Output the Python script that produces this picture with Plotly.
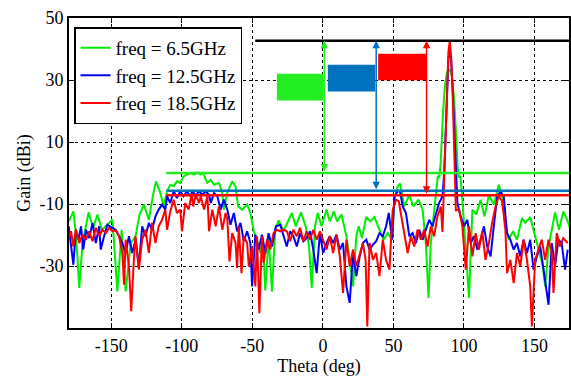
import plotly.graph_objects as go

# ---------------- data ----------------
theta_g = [-180, -176.9, -175, -172.7, -170.4, -166.1, -162.9, -159.8, -156.7, -152.8, -149.2, -145.7,
           -142.7, -139.8, -136.3, -132.8, -130, -126.9, -123.4, -120.6, -118.3, -115.2, -112.9, -110.5,
           -108.2, -105.8, -103.5, -101.1, -98.8, -96.4, -94.1, -91.3, -88.9, -86.6, -85, -81.9, -79.5,
           -77.2, -73.7, -71.3, -70.2, -67.8, -64.3, -61.9, -60.1, -57.2, -53.7, -51.4, -49, -46.7, -44.3,
           -42.7, -40.8, -38.5, -36.1, -33.8, -31.4, -27.9, -25.1, -22, -19.2, -15.5, -12.2, -9.8, -7.9,
           -5.6, -3.7, -0.9, 2.6, 4.9, 7.8, 10.1, 13.2, 16.7, 19, 21.4, 23.7, 25.4, 27.7, 30.8, 33.6, 36.6,
           40.1, 43, 46, 49.1, 50.7, 53.1, 54.7, 57.8, 61.3, 64.1, 67.8, 70.7, 73, 74.9, 76.5, 78.2, 80,
           81.5, 82.5, 83.5, 85, 86.5, 88, 90, 91.5, 93, 94.5, 95.5, 96.5, 97.5, 98.5, 100.1, 103.6, 106,
           108.8, 111.8, 114.6, 117.7, 121.2, 124.7, 127.1, 129.4, 131.8, 134.8, 137.6, 141.2, 143.5, 147,
           149.8, 152.9, 156, 157.6, 160, 162.3, 164.6, 167.4, 170.5, 173.6, 176]
gain_g = [-15.6, -12.4, -20, -37.1, -22.6, -12.7, -17.7, -13.4, -18.3, -16.7, -15.1, -38.2,
          -18.3, -38.2, -22.6, -20.4, -13.4, -10.2, -15.1, -7.5, -2.7, -6.5, -10.8, -5.9,
          -3.8, -4.3, -2.7, -3.2, -1.1, -0.5, 0, -0.5, 0.2, -0.5, 0, -3.2, -2.2,
          -3.8, -3.2, -6.5, -11.8, -6.5, -2.7, -4.3, -10.8, -11.8, -10.2, -12.9, -18.8, -21.5, -25.8,
          -20.4, -37.9, -20.4, -38.2, -18.3, -15.3, -18.8, -16.1, -12.9, -17.2, -12.7, -17.2, -23.7, -37.1,
          -17.2, -12.9, -17.2, -11.8, -15.6, -12.4, -15.6, -13.4, -20.4, -28, -36.6, -20.4, -17.2, -21, -14.2, -15.6, -14.2,
          -18.3, -21.5, -19.4, -21.5, -8.6, -4.3, -3.4, -10.8, -7, -10.8, -8.6, -11.8, -22.6, -40.3, -22.6, -15.1, -6,
          -1, -1.5, 3, 18, 28, 32.5, 33.5, 31, 24, 12, 2, -1.5, -1, -6, -17.2, -40.3, -11.8,
          -13.4, -8.6, -14, -7, -10.2, -3.8, -7.5, -17.2, -21.5, -18.8, -21.5, -14.5, -16.1, -14.2,
          -19.4, -24.2, -30.1, -36.6, -23.7, -18.3, -12.7, -18.3, -12.4, -15.6, -19]

theta_b = [-180.2, -178.6, -176.9, -175.1, -173.2, -171.5, -169.9, -168, -165.7, -163.3, -161, -158.6,
           -157.5, -155.1, -152.8, -149.2, -146.9, -144.5, -142.2, -139.8, -137.5, -135.2, -132.8, -130.5,
           -128.1, -125.8, -123.4, -121.1, -118.7, -116.4, -114, -111.7, -110.5, -108.2, -105.8, -103.5,
           -101.1, -98.8, -96.4, -94.1, -92.5, -90.1, -87.8, -85.4, -83.1, -80.7, -79.5, -77.2, -74.8,
           -72.5, -70.2, -67.8, -65.5, -63.1, -60.8, -58.4, -56.1, -53.7, -51.4, -50.2, -47.9, -45.5,
           -43.2, -40.8, -38.5, -36.1, -33.3, -30.2, -27.9, -25.6, -23.2, -20.9, -18.5, -16.2, -13.8,
           -11.5, -9.1, -6.8, -4.4, -2.1, 0.2, 2.6, 4.9, 7.3, 9.6, 12, 14.3, 16.7, 19, 21.4, 23.7, 26.1,
           28.4, 30.8, 33.1, 35.5, 37.8, 40.1, 42.5, 44.8, 46.7, 49.1, 50.7, 53.1, 54.7, 56.6, 58.9,
           61.3, 63.6, 66, 68.3, 70.7, 73, 75.4, 77.7, 80.1, 82.4, 84.8, 86, 87, 88, 89, 90, 91, 92, 93,
           94, 95, 95.4, 97.7, 100.1, 102.4, 104.8, 107.1, 109.5, 111.8, 114.2, 116.5, 118.9, 121.2,
           123.6, 125.9, 128.2, 130.6, 132.9, 135.3, 137.6, 140, 142.3, 144.7, 147, 149.4, 151.7, 154.1,
           156.4, 160, 162.3, 164.6, 167, 169.3, 171.7, 173.6]
gain_b = [-17.2, -22.6, -29.6, -18.3, -21.5, -17.2, -24.7, -18.3, -21, -16.1, -22.6, -17.2,
          -24.7, -20.4, -16.7, -17.7, -18.3, -20.4, -22.6, -25.8, -20.4, -25.8, -21.5, -30.1,
          -17.2, -20.4, -16.1, -18.3, -14, -11.8, -10.2, -11.8, -7.5, -9.7, -5.9, -8.1,
          -5.9, -7.5, -5.9, -7.5, -5.9, -7.3, -5.9, -7, -5.9, -7, -9.7, -6.5, -7.5,
          -11.8, -8.6, -11.8, -16.7, -12.9, -18.8, -16.1, -22, -18.8, -22.6, -36.6, -19.9, -24.7,
          -19.9, -25.8, -19.4, -23.7, -17.2, -16.7, -20.4, -23.7, -18.8, -20.4, -23.7, -19.4, -22,
          -21, -18.8, -24.7, -32.3, -19.4, -25.8, -22.6, -20.4, -22.6, -19.9, -24.7, -22.6, -36.6, -41.9, -25.8, -33.3, -26.9,
          -22.6, -21.5, -24.7, -23.1, -22, -19.4, -20.4, -17.2, -12.9, -21.5, -7.5, -5.9, -5.9, -10.8, -12.9,
          -20.4, -19.4, -22.6, -18.3, -21.5, -18.3, -15.1, -17.2, -13.4, -9.7, -7.5, 0, 12, 28, 37, 40, 36, 27, 15,
          5, -5, -9.7, -14, -17.2, -15.1, -22.6, -20.4, -24.7, -21.5, -17.2, -23.7, -26.9, -17.2,
          -7.5, -5.9, -7.5, -19.4, -21.5, -24.7, -22.6, -26.9, -21.5, -25.8, -21.5, -31.2, -26.9, -23.7,
          -31.2, -42.5, -22.6, -30.1, -21.5, -22.6, -31.2, -24.7]

theta_r = [-180.2, -178.6, -176.9, -175.1, -172.7, -170.4, -168, -165.7, -163.3, -161, -158.6, -156.3,
           -153.9, -151.6, -149.2, -146.9, -144.5, -142.2, -141, -139.8, -137.5, -135.9, -134, -132.8,
           -130.5, -128.1, -125.8, -123.4, -121.1, -118.7, -116.4, -114, -111.7, -110.5, -108.2, -105.8,
           -103.5, -101.1, -99.9, -97.6, -95.2, -92.9, -92, -90.1, -87.8, -86.6, -84.2, -81.9, -80.7,
           -78.4, -76, -73.7, -71.3, -69, -67.8, -66.2, -64.3, -61.9, -60.8, -59.6, -57.7, -56.1, -53.7,
           -52.5, -50.2, -47.9, -46.7, -45, -43.2, -42, -39.6, -37.3, -35, -32.6, -30.2, -27.9, -25.6,
           -23.2, -20.9, -18.5, -16.2, -13.8, -11.5, -9.1, -6.8, -4.4, -2.1, 0.2, 2.6, 4.9, 7.3, 9.6, 12,
           14.3, 16.7, 19, 21.4, 23.7, 26.1, 28.4, 30.3, 31.5, 33.1, 35.5, 37.8, 40.1, 42.5, 44.8, 47.2,
           49.5, 51.9, 53.8, 55.4, 57.8, 60.1, 62.4, 64.8, 67.1, 69.5, 71.8, 74.2, 76.5, 78.9, 81.2, 83.6,
           84.8, 86, 87, 88, 89, 90, 91, 92, 93, 93.5, 94.3, 96.6, 98.9, 101.3, 103.6, 106, 108.3, 110.6,
           113, 115.3, 117.7, 120, 122.4, 124.7, 127.1, 129.4, 130.6, 132.9, 135.3, 137.6, 140, 142.3,
           144.7, 147, 148.2, 150.5, 152.9, 155.2, 157.6, 160, 162.3, 163.5, 165.8, 168.2, 170.5, 173.6]
gain_r = [-21.5, -18.8, -23.7, -18.3, -22.6, -19.9, -21.5, -18.8, -22, -17.7, -20.4, -18.3,
          -19.4, -17.7, -18.8, -18.5, -20.4, -25.8, -36, -21.5, -30.1, -44.6, -28, -20.4,
          -31.2, -21.5, -18.3, -25.8, -16.1, -22.6, -17.2, -15.1, -11.8, -18.3, -12.4, -8.6,
          -12.9, -11.8, -18.8, -9.7, -11.8, -6.5, -10.8, -7, -9.7, -7.5, -11.8, -7.5, -18.8,
          -11.8, -17.2, -10.8, -18.3, -12.9, -14.5, -28.5, -19.4, -22.6, -30.6, -17.2, -32.3, -20.4, -22.6,
          -30.1, -23.7, -36.6, -20.4, -45.2, -20.4, -29, -21.5, -24.7, -19.4, -18.3, -18.8, -18.3, -18.8,
          -22, -18.3, -20.4, -17.7, -22, -18.8, -21.5, -18.3, -21.5, -18.8, -21.5, -24.7, -20.4, -25.8, -19.9, -26.9,
          -38.7, -21.5, -30.1, -24.7, -30.1, -25.8, -22.6, -28, -49.5, -22.6, -28, -25.8, -33.3, -21.5, -28, -31.2,
          -11.8, -8.6, -9.1, -13.4, -20.4, -25.8, -20.4, -23.7, -18.3, -21.5, -18.3, -23.7, -17.2, -20.4, -14, -10.8,
          -19, -2, 14, 30, 39, 42.5, 37, 26, 8, -5, -12, -11.8, -17.2, -31.2, -17.2, -26.9, -19.4, -24.7,
          -18.8, -28, -22.6, -16.1, -10.8, -7.5, -9.1, -18.3, -32.3, -28, -35.5, -25.8, -30.1, -21.5,
          -28, -36.6, -49.5, -28, -24.7, -21.5, -28, -21.5, -25.8, -38.7, -19.4, -23.7, -21, -22.6]

series_names = ["freq = 6.5GHz", "freq = 12.5GHz", "freq = 18.5GHz"]

# reference levels
peak_level = 42.7
peak_level_start = -48
sidelobe_levels = [0, -5.7, -7.2]
sidelobe_start = -111
arrow_theta = [1, 37.8, 73.5]
# colored boxes
box_theta0 = [-32.6, 3.5, 39.2]
box_theta1 = [0.5, 37.1, 73.5]
box_gain0 = [23.4, 26.3, 29.9]
box_gain1 = [32.0, 34.9, 38.5]

x_ticks = [-150, -100, -50, 0, 50, 100, 150]
x_ticktext = ["-150", "-100", "-50", "0", "50", "100", "150"]
y_ticks = [-30, -10, 10, 30, 50]
y_ticktext = ["-30", "-10", "10", "30", "50"]

# ---------------- styles ----------------
line_colors = ["#00ee00", "#0000ff", "#ff0000"]
level_colors = ["#22ee22", "#0072bd", "#ff0000"]
box_colors = ["#22ee22", "#0072bd", "#ff0000"]
FONT = "Liberation Serif, Times New Roman, serif"

fig = go.Figure()
for th, g, c, n in zip([theta_g, theta_b, theta_r], [gain_g, gain_b, gain_r], line_colors, series_names):
    fig.add_trace(go.Scatter(x=th, y=g, mode="lines", name=n,
                             line=dict(color=c, width=2)))

shapes = []
shapes.append(dict(type="line", xref="x", yref="y", x0=peak_level_start, x1=180,
                   y0=peak_level, y1=peak_level, line=dict(color="black", width=2.5)))
for lv, c in zip(sidelobe_levels, level_colors):
    shapes.append(dict(type="line", xref="x", yref="y", x0=sidelobe_start, x1=180,
                       y0=lv, y1=lv, line=dict(color=c, width=2.5)))
for t0, t1, g0, g1, c in zip(box_theta0, box_theta1, box_gain0, box_gain1, box_colors):
    shapes.append(dict(type="rect", xref="x", yref="y", x0=t0, x1=t1, y0=g0, y1=g1,
                       fillcolor=c, line=dict(width=0), layer="above"))
fig.update_layout(shapes=shapes)

for th, lv, c in zip(arrow_theta, sidelobe_levels, level_colors):
    fig.add_annotation(x=th, y=peak_level, ax=th, ay=lv, xref="x", yref="y",
                       axref="x", ayref="y", text="", showarrow=True,
                       arrowhead=2, startarrowhead=2, arrowside="end+start",
                       arrowsize=1, startarrowsize=1, arrowwidth=1.5, arrowcolor=c)

axis_common = dict(showline=True, linecolor="black", linewidth=2, mirror="ticks",
                   ticks="inside", ticklen=5, tickcolor="black", tickwidth=1,
                   showgrid=True, gridcolor="black", gridwidth=1, griddash="dot",
                   zeroline=False, tickfont=dict(family=FONT, size=18, color="black"))

fig.update_xaxes(range=[-180, 174.5], tickvals=x_ticks, ticktext=x_ticktext,
                 title=dict(text="Theta (deg)", font=dict(family=FONT, size=18, color="black"), standoff=4),
                 **axis_common)
fig.update_yaxes(range=[-50, 50], tickvals=y_ticks, ticktext=y_ticktext,
                 title=dict(text="Gain (dBi)", font=dict(family=FONT, size=18, color="black"), standoff=4),
                 **axis_common)

fig.update_layout(
    width=571, height=377,
    margin=dict(l=69, r=0, t=18, b=49),
    paper_bgcolor="white", plot_bgcolor="white",
    showlegend=True,
    legend=dict(x=0.01, y=0.97, xanchor="left", yanchor="top",
                bgcolor="white", bordercolor="black", borderwidth=1.5,
                font=dict(family=FONT, size=19, color="black"),
                tracegroupgap=0, itemwidth=30),
)

fig.write_html("out.html")
